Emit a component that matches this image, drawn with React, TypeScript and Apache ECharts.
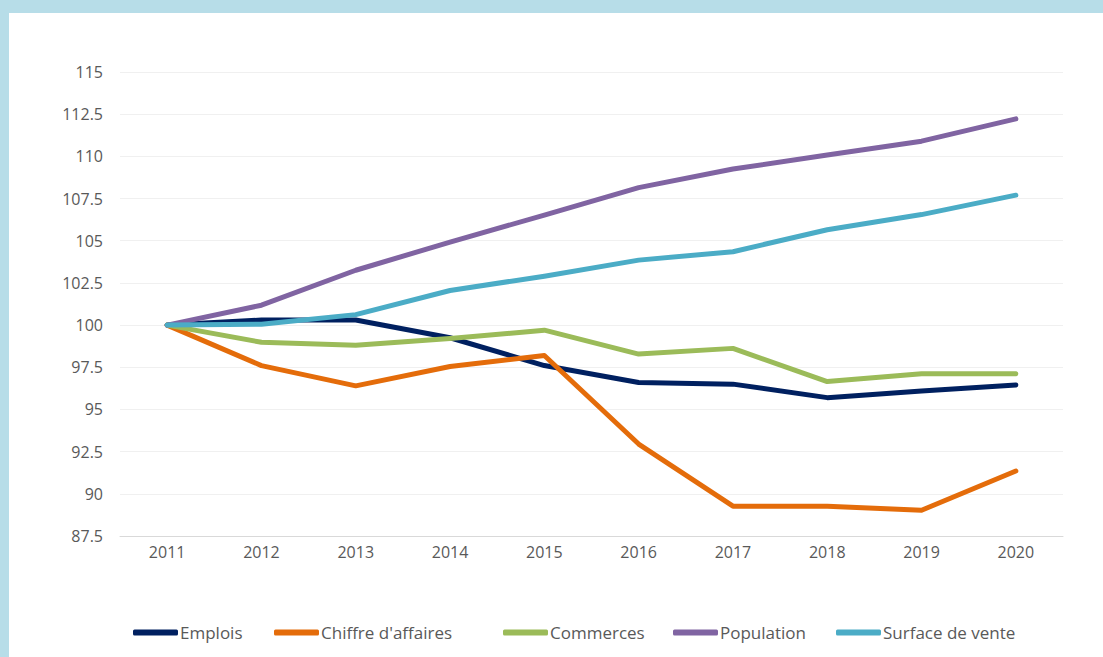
import React, { useEffect, useRef } from "react";
import * as echarts from "echarts";

const years = ["2011", "2012", "2013", "2014", "2015", "2016", "2017", "2018", "2019", "2020"];
const emplois = [100, 100.3, 100.3, 99.25, 97.6, 96.6, 96.5, 95.7, 96.1, 96.45];
const chiffre = [100, 97.6, 96.4, 97.55, 98.2, 92.95, 89.27, 89.27, 89.03, 91.35];
const commerces = [100, 98.98, 98.8, 99.2, 99.7, 98.28, 98.62, 96.65, 97.12, 97.12];
const population = [100, 101.18, 103.25, 104.92, 106.52, 108.15, 109.25, 110.08, 110.9, 112.22];
const surface = [100, 100.05, 100.62, 102.05, 102.9, 103.85, 104.35, 105.65, 106.55, 107.7];

const seriesNames = ["Emplois", "Chiffre d'affaires", "Commerces", "Population", "Surface de vente"];
const seriesData = [emplois, chiffre, commerces, population, surface];
const colors = ["#002060", "#E46C0A", "#9BBB59", "#8064A2", "#4BACC6"];
const legendLefts = [119, 260, 489, 659, 822];

const FONT = "'Open Sans', 'Noto Sans', sans-serif";

export default function App() {
  const ref = useRef<HTMLDivElement>(null);
  useEffect(() => {
    if (!ref.current) return;
    const chart = echarts.init(ref.current, undefined, { renderer: "svg" });
    chart.setOption({
      animation: false,
      color: colors,
      grid: { left: 111, right: 40, top: 59, bottom: 121 },
      legend: seriesNames.map((name, i) => ({
        left: legendLefts[i],
        top: 606,
        itemWidth: 45,
        itemHeight: 6,
        icon: "roundRect",
        data: [name],
        selectedMode: false,
        textStyle: { color: "#595959", fontSize: 17, fontFamily: FONT, padding: [0, 0, 0, -3] },
      })),
      xAxis: {
        type: "category",
        data: years,
        boundaryGap: true,
        axisLine: { show: true, lineStyle: { color: "#D9D9D9", width: 1 } },
        axisTick: { show: false },
        axisLabel: { color: "#595959", fontSize: 16, fontFamily: FONT, margin: 8 },
      },
      yAxis: {
        type: "value",
        min: 87.5,
        max: 115,
        interval: 2.5,
        axisLine: { show: false },
        axisTick: { show: false },
        splitLine: { lineStyle: { color: "#F0F0F0", width: 1 } },
        axisLabel: { color: "#595959", fontSize: 16, fontFamily: FONT, margin: 17 },
      },
      series: seriesNames.map((name, i) => ({
        name,
        type: "line",
        data: seriesData[i],
        showSymbol: false,
        symbol: "none",
        lineStyle: { width: 5, color: colors[i], cap: "round", join: "round" },
      })),
    });
    return () => chart.dispose();
  }, []);
  return (
    <div style={{ position: "fixed", left: 0, top: 0, width: 1103, height: 657, background: "#B7DDE8" }}>
      <div
        ref={ref}
        style={{ position: "absolute", left: 9, top: 13, width: 1094, height: 644, background: "#FFFFFF" }}
      />
    </div>
  );
}
